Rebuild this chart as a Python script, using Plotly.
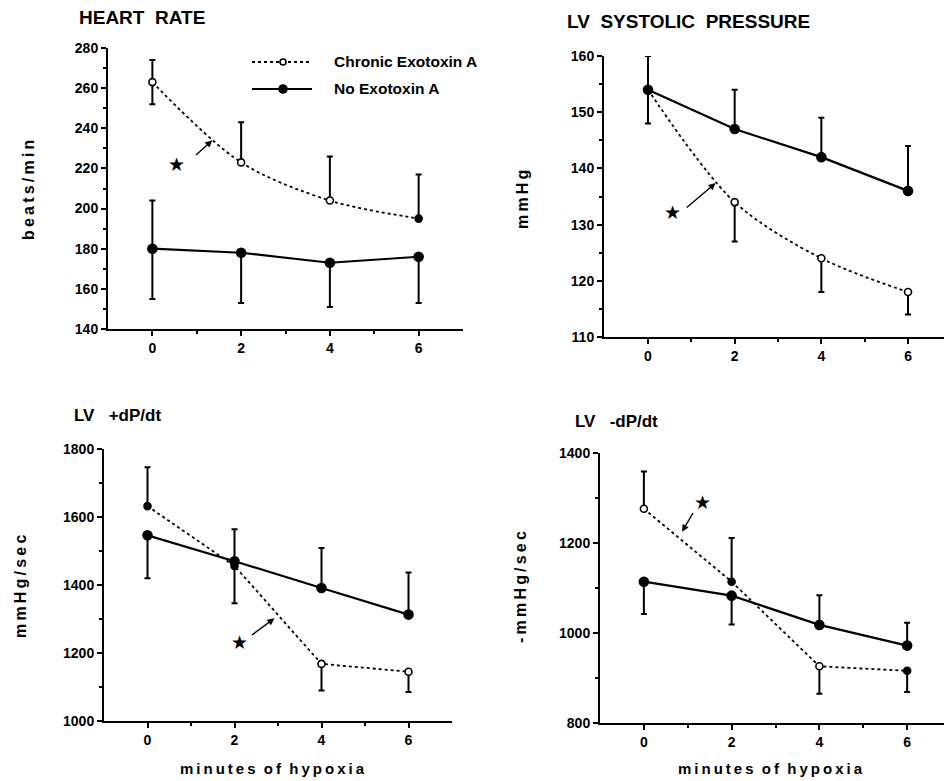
import plotly.graph_objects as go

W, H = 944, 781

minutes = [0, 2, 4, 6]

# Heart rate (beats/min)
hr_chronic = [263, 223, 204, 195]
hr_chronic_up = [11, 20, 22, 22]
hr_chronic_down = [11, 0, 0, 0]
hr_none = [180, 178, 173, 176]
hr_none_up = [24, 0, 0, 0]
hr_none_down = [25, 25, 22, 23]

# LV systolic pressure (mmHg)
lvsp_chronic = [154, 134, 124, 118]
lvsp_chronic_up = [0, 0, 0, 0]
lvsp_chronic_down = [0, 7, 6, 4]
lvsp_none = [154, 147, 142, 136]
lvsp_none_up = [6, 7, 7, 8]
lvsp_none_down = [6, 0, 0, 0]

# LV +dP/dt (mmHg/sec)
pdp_chronic = [1632, 1456, 1168, 1145]
pdp_chronic_up = [114, 0, 0, 0]
pdp_chronic_down = [0, 110, 78, 60]
pdp_none = [1546, 1470, 1391, 1313]
pdp_none_up = [0, 94, 118, 124]
pdp_none_down = [126, 0, 0, 0]

# LV -dP/dt (-mmHg/sec)
ndp_chronic = [1276, 1114, 926, 916]
ndp_chronic_up = [83, 97, 0, 0]
ndp_chronic_down = [0, 0, 61, 47]
ndp_none = [1114, 1083, 1018, 972]
ndp_none_up = [0, 0, 66, 51]
ndp_none_down = [72, 64, 0, 0]

x_tick_labels = ["0", "2", "4", "6"]

FONT = "Liberation Sans, Arial, Helvetica, sans-serif"
NB = "\u00a0"
TS = "\u2009"


def spaced(s):
    return TS.join(s)


def px(x):
    return x / W


def py(y):
    return 1 - y / H


fig = go.Figure()


def add_series(n, y, up, down, dashed, spline, fills):
    xa = "x" if n == 1 else f"x{n}"
    ya = "y" if n == 1 else f"y{n}"
    fig.add_trace(go.Scatter(
        x=minutes, y=y, xaxis=xa, yaxis=ya, mode="lines+markers",
        line=dict(color="black", width=1.8 if dashed else 2.2,
                  dash="3px,3px" if dashed else "solid",
                  shape="spline" if spline else "linear", smoothing=0.9),
        marker=dict(symbol="circle", size=7 if dashed else 9,
                    color=fills, line=dict(color="black", width=1.6)),
        error_y=dict(type="data", symmetric=False, array=up, arrayminus=down,
                     color="black", thickness=2, width=3),
        showlegend=False, cliponaxis=False,
    ))


W_ = "white"
B_ = "black"
add_series(1, hr_none, hr_none_up, hr_none_down, False, False, B_)
add_series(1, hr_chronic, hr_chronic_up, hr_chronic_down, True, True, [W_, W_, W_, B_])
add_series(2, lvsp_none, lvsp_none_up, lvsp_none_down, False, False, B_)
add_series(2, lvsp_chronic, lvsp_chronic_up, lvsp_chronic_down, True, True, [B_, W_, W_, W_])
add_series(3, pdp_none, pdp_none_up, pdp_none_down, False, False, B_)
add_series(3, pdp_chronic, pdp_chronic_up, pdp_chronic_down, True, False, [B_, B_, W_, W_])
add_series(4, ndp_none, ndp_none_up, ndp_none_down, False, False, B_)
add_series(4, ndp_chronic, ndp_chronic_up, ndp_chronic_down, True, False, [W_, B_, W_, B_])

panels = {
    1: dict(xd=[px(108), px(463)], xr=[-1, 7], yd=[py(329), py(48)], yr=[140, 280], dt=20, mdt=10),
    2: dict(xd=[px(604), 1.0], xr=[-1.015, 6.83], yd=[py(337), py(56)], yr=[110, 160], dt=10, mdt=5),
    3: dict(xd=[px(104), px(452)], xr=[-1, 7], yd=[py(721), py(449)], yr=[1000, 1800], dt=200, mdt=100),
    4: dict(xd=[px(600), 1.0], xr=[-1, 6.84], yd=[py(723), py(453)], yr=[800, 1400], dt=200, mdt=100),
}

tickfont = dict(family=FONT, size=14, color="black", weight="bold")
layout = {}
for n, p in panels.items():
    sx = "" if n == 1 else str(n)
    layout["xaxis" + sx] = dict(
        domain=p["xd"], range=p["xr"], anchor="y" + sx, showgrid=False, zeroline=False,
        showline=True, linecolor="black", linewidth=2, ticks="outside", ticklen=5,
        tickwidth=2, tickcolor="black", tickvals=minutes, ticktext=x_tick_labels,
        tickfont=tickfont,
        minor=dict(tickvals=[1, 3, 5], ticks="outside", ticklen=3, tickwidth=2, tickcolor="black"),
        fixedrange=True,
    )
    layout["yaxis" + sx] = dict(
        domain=p["yd"], range=p["yr"], anchor="x" + sx, showgrid=False, zeroline=False,
        showline=True, linecolor="black", linewidth=2, ticks="outside", ticklen=5,
        tickwidth=2, tickcolor="black", dtick=p["dt"], tick0=p["yr"][0], tickfont=tickfont,
        minor=dict(dtick=p["mdt"], ticks="outside", ticklen=3, tickwidth=2, tickcolor="black"),
        fixedrange=True,
    )

ann = []


def text(x, y, s, size, angle=0, xanchor="center"):
    ann.append(dict(x=px(x), y=py(y), xref="paper", yref="paper", text=s, showarrow=False,
                    textangle=angle, xanchor=xanchor, yanchor="middle",
                    font=dict(family=FONT, size=size, color="black", weight="bold")))


# panel titles
text(77, 18, f"HEART{NB}{NB}RATE", 19, xanchor="left")
text(565, 22, f"LV{NB}{NB}SYSTOLIC{NB}{NB}PRESSURE", 19, xanchor="left")
text(72, 415, f"LV{NB}{NB}{NB}+dP/dt", 17, xanchor="left")
text(573, 422, f"LV{NB}{NB}{NB}-dP/dt", 17, xanchor="left")
# y-axis titles
text(28, 190, spaced("beats/min"), 16, angle=-90)
text(523, 200, spaced("mmHg"), 16, angle=-90)
text(20, 587, spaced("mmHg/sec"), 16, angle=-90)
text(520, 587, spaced("-mmHg/sec"), 16, angle=-90)
# x-axis titles
xt = f"{spaced('minutes')}{NB}{NB}{spaced('of')}{NB}{NB}{spaced('hypoxia')}"
text(272, 768, xt, 15, )
text(770, 768, xt, 15)
# legend text
text(332, 62, "Chronic Exotoxin A", 15.5, xanchor="left")
text(332, 89, "No Exotoxin A", 15.5, xanchor="left")

# significance stars and arrows (data coordinates)
stars = [
    (1, 0.54, 222, 0.95, 226, 1.35, 234),
    (2, 0.56, 132.3, 0.86, 132.8, 1.56, 137.4),
    (3, 2.11, 1233, 2.37, 1250, 2.92, 1302),
    (4, 1.33, 1290, 1.14, 1270, 0.87, 1225),
]
for n, sx_, sy_, tx, ty, hx, hy in stars:
    xr = "x" if n == 1 else f"x{n}"
    yr = "y" if n == 1 else f"y{n}"
    ann.append(dict(x=sx_, y=sy_, xref=xr, yref=yr, text="★", showarrow=False,
                    font=dict(family="DejaVu Sans", size=19, color="black")))
    ann.append(dict(x=hx, y=hy, xref=xr, yref=yr, ax=tx, ay=ty, axref=xr, ayref=yr,
                    text="", showarrow=True, arrowhead=2, arrowsize=1, arrowwidth=1.4,
                    arrowcolor="black", standoff=0))

# manual legend samples
shapes = [
    dict(type="line", xref="paper", yref="paper", x0=px(252), x1=px(312), y0=py(62), y1=py(62),
         line=dict(color="black", width=1.8, dash="3px,3px")),
    dict(type="line", xref="paper", yref="paper", x0=px(252), x1=px(312), y0=py(89), y1=py(89),
         line=dict(color="black", width=2.2)),
    dict(type="circle", xref="paper", yref="paper", x0=px(280), x1=px(286), y0=py(65), y1=py(59),
         fillcolor="white", line=dict(color="black", width=1.6)),
    dict(type="circle", xref="paper", yref="paper", x0=px(279), x1=px(287), y0=py(93), y1=py(85),
         fillcolor="black", line=dict(color="black", width=1.6)),
]

fig.update_layout(
    width=W, height=H, margin=dict(l=0, r=0, t=0, b=0, autoexpand=False),
    paper_bgcolor="white", plot_bgcolor="white", showlegend=False,
    annotations=ann, shapes=shapes, **layout,
)

fig.write_html("out.html", config={"displayModeBar": False},
               post_script="document.body.style.margin='0';document.body.style.overflow='hidden';")
